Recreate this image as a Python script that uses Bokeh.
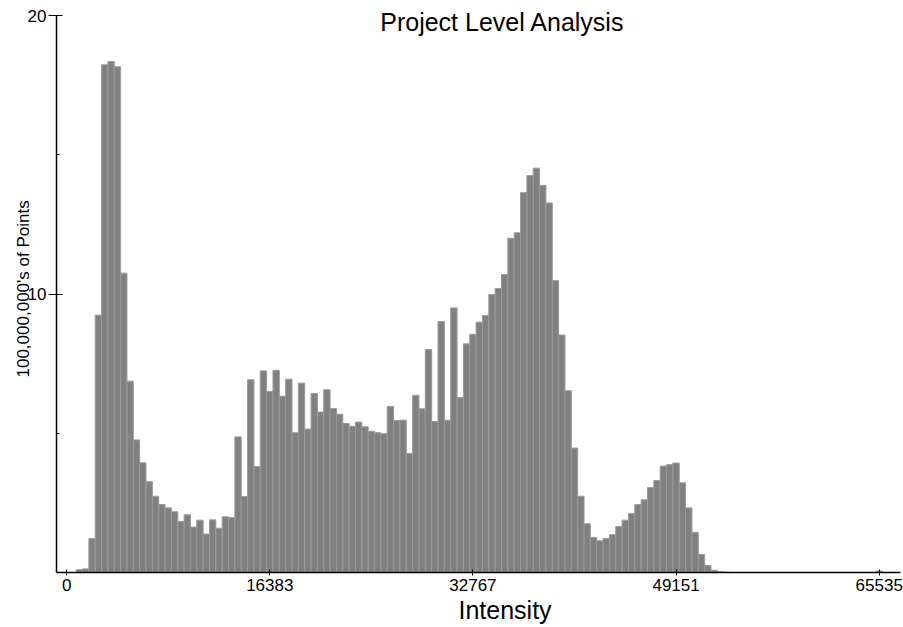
import math
from bokeh.plotting import figure
from bokeh.models import Range1d, FixedTicker, Label, Title, ColumnDataSource
from bokeh.embed import file_html
from bokeh.resources import INLINE

# ---------------- data ----------------
bin_width = 512
bin_index = list(range(128))
# counts per bin, in 100,000,000's of points
counts = [
    0.00, 0.10, 0.13, 1.22, 9.24, 18.23, 18.35, 18.16, 10.75, 6.87,
    4.76, 3.94, 3.26, 2.74, 2.44, 2.32, 2.18, 1.83, 2.07, 1.63,
    1.88, 1.38, 1.89, 1.59, 2.00, 1.97, 4.87, 2.73, 6.92, 3.80,
    7.24, 6.50, 7.26, 6.33, 6.94, 5.02, 6.80, 5.15, 6.43, 5.76,
    6.56, 5.89, 5.68, 5.35, 5.25, 5.40, 5.23, 5.07, 5.02, 4.98,
    5.96, 5.46, 5.47, 4.27, 6.36, 5.88, 8.01, 5.42, 9.01, 5.47,
    9.50, 6.28, 8.21, 8.55, 8.99, 9.23, 9.98, 10.20, 10.70, 12.00,
    12.20, 13.64, 14.25, 14.52, 13.90, 13.27, 10.48, 8.53, 6.53, 4.47,
    2.74, 1.75, 1.26, 1.14, 1.22, 1.36, 1.65, 1.88, 2.12, 2.44,
    2.61, 3.05, 3.30, 3.82, 3.87, 3.93, 3.22, 2.32, 1.44, 0.65,
    0.25, 0.08, 0.03, 0.01, 0.00, 0.00, 0.00, 0.00, 0.00, 0.00,
    0.00, 0.00, 0.00, 0.00, 0.00, 0.00, 0.00, 0.00, 0.00, 0.00,
    0.00, 0.00, 0.00, 0.00, 0.00, 0.00, 0.00, 0.05,
]
x_tick_values = [0, 16383, 32767, 49151, 65535]
x_tick_labels = ["0", "16383", "32767", "49151", "65535"]
y_tick_values = [10, 20]
y_minor_ticks = [5, 15]
title_text = "Project Level Analysis"
x_label_text = "Intensity"
y_label_text = "100,000,000's of Points"

# bin i is labelled by its upper intensity value
centers = [(i + 1) * bin_width - 1 for i in bin_index]
source = ColumnDataSource(data=dict(x=centers, top=counts))

FONT = "Liberation Sans"

p = figure(
    width=903, height=627,
    output_backend="svg", toolbar_location=None,
    x_range=Range1d(-821, 67253), y_range=Range1d(0, 20.54),
    min_border_left=56, min_border_right=3,
    min_border_top=0, min_border_bottom=55,
    background_fill_color="white", border_fill_color="white",
    outline_line_color=None,
)
p.title.visible = False
p.xgrid.visible = False
p.ygrid.visible = False

p.vbar(x="x", top="top", bottom=0, width=bin_width, source=source,
       fill_color="#808080", line_color="#9a9a9a", line_width=1)

# x axis
xa = p.xaxis[0]
xa.ticker = FixedTicker(ticks=x_tick_values)
xa.major_label_overrides = {v: s for v, s in zip(x_tick_values, x_tick_labels)}
xa.axis_line_color = "black"
xa.axis_line_width = 1.5
xa.major_tick_line_color = "black"
xa.major_tick_in = 3
xa.major_tick_out = 3
xa.minor_tick_line_color = None
xa.major_label_standoff = 3
xa.major_label_text_font = FONT
xa.major_label_text_font_size = "17px"
xa.major_label_text_color = "black"

# y axis
ya = p.yaxis[0]
ya.ticker = FixedTicker(ticks=y_tick_values, minor_ticks=y_minor_ticks)
ya.bounds = (0, 20)
ya.axis_line_color = "black"
ya.axis_line_width = 1.5
ya.major_tick_line_color = "black"
ya.major_tick_in = 6
ya.major_tick_out = 8
ya.minor_tick_line_color = "black"
ya.minor_tick_in = 3
ya.minor_tick_out = 0
ya.major_label_standoff = 2
ya.major_label_text_font = FONT
ya.major_label_text_font_size = "17px"
ya.major_label_text_color = "black"

# texts
p.add_layout(Label(x=35152, y=19.78, text=title_text, text_font=FONT,
                   text_font_size="25px", text_align="center",
                   text_baseline="alphabetic", text_color="black"))
p.add_layout(Title(text=x_label_text, text_font=FONT, text_font_size="25px",
                   text_font_style="normal", text_color="black",
                   align="left", offset=402, standoff=0), "below")
p.add_layout(Title(text=y_label_text, text_font=FONT, text_font_size="17px",
                   text_font_style="normal", text_color="black",
                   align="left", offset=195, standoff=-16), "left")

open("out.html", "w").write(file_html(p, INLINE))
